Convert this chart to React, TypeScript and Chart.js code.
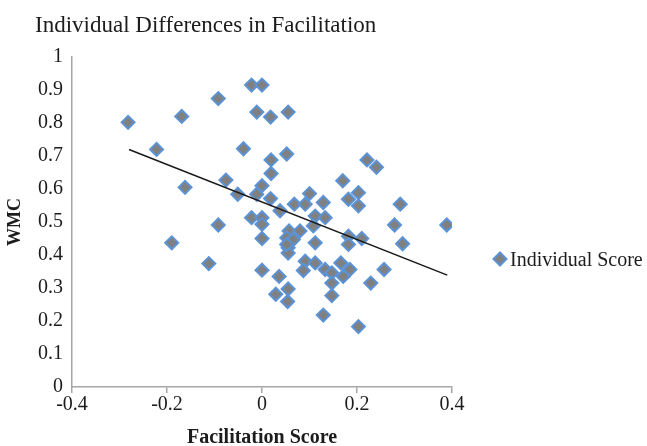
import React, { useEffect, useRef } from "react";
import { Chart, registerables } from "chart.js";

Chart.register(...registerables);

const TITLE = "Individual Differences in Facilitation";
const X_TITLE = "Facilitation Score";
const Y_TITLE = "WMC";
const SERIES_LABEL = "Individual Score";

const X_TICKS = [-0.4, -0.2, 0, 0.2, 0.4];
const X_TICK_LABELS = ["-0.4", "-0.2", "0", "0.2", "0.4"];
const Y_TICKS = [0, 0.1, 0.2, 0.3, 0.4, 0.5, 0.6, 0.7, 0.8, 0.9, 1];
const Y_TICK_LABELS = ["0", "0.1", "0.2", "0.3", "0.4", "0.5", "0.6", "0.7", "0.8", "0.9", "1"];

const facilitation = [
  -0.282, -0.222, -0.169, -0.092, -0.022, 0.0, -0.011, 0.018, 0.055, -0.039,
  0.019, 0.052, 0.019, -0.076, -0.162, -0.051, 0.0, -0.011, 0.018, 0.038,
  -0.022, 0.0, 0.0, -0.092, 0.221, 0.241, 0.17, 0.1, 0.203, 0.182,
  0.203, 0.068, 0.091, 0.129, 0.112, 0.133, 0.108, 0.057, 0.08, 0.052,
  0.066, 0.0, 0.112, 0.055, 0.055, 0.182, 0.21, 0.182, 0.291, 0.279,
  0.389, 0.296, 0.257, 0.229, 0.203, 0.129, 0.147, 0.054, 0.029, 0.055,
  0.036, 0.0, 0.091, 0.087, 0.112, 0.133, 0.147, 0.166, 0.185, 0.171,
  0.147, -0.19, -0.112, 0.052,
];

const wmc = [
  0.802, 0.72, 0.82, 0.874, 0.915, 0.915, 0.833, 0.818, 0.833, 0.722,
  0.688, 0.706, 0.647, 0.627, 0.605, 0.584, 0.61, 0.584, 0.571, 0.534,
  0.513, 0.513, 0.493, 0.491, 0.688, 0.666, 0.625, 0.586, 0.589, 0.569,
  0.549, 0.554, 0.554, 0.559, 0.518, 0.513, 0.488, 0.473, 0.473, 0.452,
  0.447, 0.45, 0.437, 0.422, 0.406, 0.457, 0.45, 0.432, 0.554, 0.491,
  0.491, 0.434, 0.356, 0.315, 0.183, 0.218, 0.277, 0.259, 0.281, 0.297,
  0.335, 0.354, 0.381, 0.353, 0.376, 0.356, 0.346, 0.376, 0.356, 0.335,
  0.315, 0.437, 0.374, 0.432,
];

const trendX = [-0.28, 0.39];
const trendY = [0.72, 0.339];

const POINT_FILL = "#808080";
const POINT_BORDER = "#5b93d6";
const TEXT_COLOR = "#1c1c1c";
const AXIS_COLOR = "#a6a6a6";
const SERIF = '"Liberation Serif", "Times New Roman", serif';

const titlePlugin = {
  id: "leftTitle",
  afterDraw(chart: any) {
    const ctx = chart.ctx;
    ctx.save();
    ctx.font = `23px ${SERIF}`;
    ctx.fillStyle = TEXT_COLOR;
    ctx.textAlign = "left";
    ctx.textBaseline = "alphabetic";
    ctx.fillText(TITLE, 35, 32);
    ctx.restore();
  },
};

const legendPlugin = {
  id: "sideLegend",
  afterDraw(chart: any) {
    const ctx = chart.ctx;
    const ds = chart.data.datasets[1];
    const cx = chart.chartArea.right + 48;
    const cy = 259;
    ctx.save();
    ctx.beginPath();
    ctx.moveTo(cx - 6.5, cy);
    ctx.lineTo(cx, cy - 6.5);
    ctx.lineTo(cx + 6.5, cy);
    ctx.lineTo(cx, cy + 6.5);
    ctx.closePath();
    ctx.fillStyle = ds.backgroundColor;
    ctx.fill();
    ctx.lineWidth = 2;
    ctx.strokeStyle = ds.borderColor;
    ctx.stroke();
    ctx.font = `20px ${SERIF}`;
    ctx.fillStyle = TEXT_COLOR;
    ctx.textAlign = "left";
    ctx.textBaseline = "alphabetic";
    ctx.fillText(ds.label, cx + 10, 266);
    ctx.restore();
  },
};

export default function App() {
  const ref = useRef<HTMLCanvasElement | null>(null);

  useEffect(() => {
    if (!ref.current) return;
    const points = facilitation.map((x, i) => ({ x, y: wmc[i] }));
    const trend = trendX.map((x, i) => ({ x, y: trendY[i] }));
    const chart = new Chart(ref.current, {
      type: "scatter",
      data: {
        datasets: [
          {
            type: "line",
            label: "Trend",
            data: trend,
            borderColor: "#1a1a1a",
            borderWidth: 1.6,
            pointRadius: 0,
            showLine: true,
            fill: false,
            order: 0,
          } as any,
          {
            label: SERIES_LABEL,
            data: points,
            pointStyle: "rectRot",
            pointRadius: 6.5,
            pointHoverRadius: 6.5,
            backgroundColor: POINT_FILL,
            borderColor: POINT_BORDER,
            borderWidth: 2,
            order: 1,
          },
        ],
      },
      options: {
        animation: false,
        responsive: false,
        devicePixelRatio: 1,
        layout: { padding: { top: 57, right: 195, left: 0, bottom: 0 } },
        plugins: {
          legend: { display: false },
          title: { display: false },
          tooltip: { enabled: false },
        },
        scales: {
          x: {
            type: "linear",
            min: -0.4,
            max: 0.4,
            afterBuildTicks: (scale: any) => {
              scale.ticks = X_TICKS.map((v) => ({ value: v }));
            },
            afterFit: (scale: any) => {
              scale.height = 59;
            },
            ticks: {
              padding: 0,
              color: TEXT_COLOR,
              font: { family: SERIF, size: 20 },
              callback: (v: any) => {
                const i = X_TICKS.findIndex((t) => Math.abs(t - v) < 1e-9);
                return i >= 0 ? X_TICK_LABELS[i] : "";
              },
            },
            grid: { drawOnChartArea: false, drawTicks: true, tickLength: 6, color: AXIS_COLOR, lineWidth: 1.5 },
            border: { display: true, color: AXIS_COLOR, width: 1.5 },
            title: {
              display: true,
              text: X_TITLE,
              color: TEXT_COLOR,
              font: { family: SERIF, size: 20, weight: "bold", lineHeight: 0.8 },
              padding: { top: 0, bottom: 0 },
            },
          },
          y: {
            type: "linear",
            min: 0,
            max: 1,
            afterBuildTicks: (scale: any) => {
              scale.ticks = Y_TICKS.map((v) => ({ value: v }));
            },
            afterFit: (scale: any) => {
              scale.width = 72;
            },
            ticks: {
              padding: 9,
              color: TEXT_COLOR,
              font: { family: SERIF, size: 20 },
              callback: (v: any) => {
                const i = Y_TICKS.findIndex((t) => Math.abs(t - v) < 1e-9);
                return i >= 0 ? Y_TICK_LABELS[i] : "";
              },
            },
            grid: { drawOnChartArea: false, drawTicks: false },
            border: { display: true, color: AXIS_COLOR, width: 1.5 },
            title: {
              display: true,
              text: Y_TITLE,
              color: TEXT_COLOR,
              font: { family: SERIF, size: 18, weight: "bold", lineHeight: 1.2 },
              padding: { top: 5, bottom: 0 },
            },
          },
        },
      },
      plugins: [titlePlugin, legendPlugin],
    });
    return () => chart.destroy();
  }, []);

  return (
    <div style={{ position: "absolute", left: 0, top: 0, width: 647, height: 446, background: "#fff" }}>
      <canvas ref={ref} width={647} height={446} style={{ width: 647, height: 446, display: "block" }} />
    </div>
  );
}
